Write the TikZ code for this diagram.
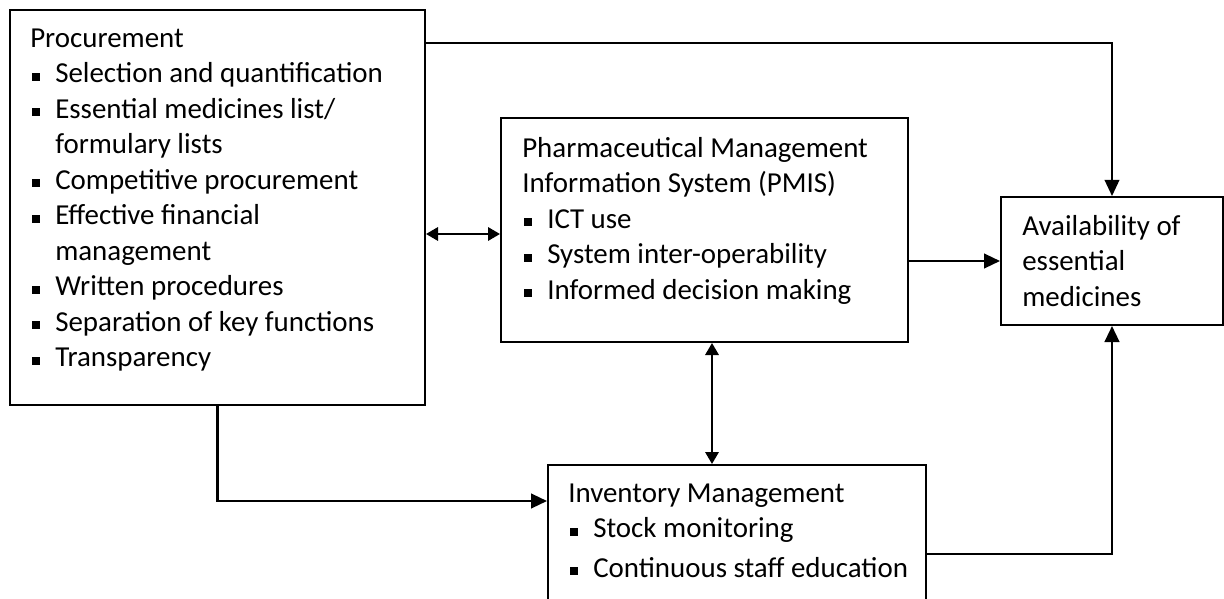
\documentclass[tikz,border=0pt]{standalone}
\usepackage{fontspec}
\setmainfont{Carlito}
\usetikzlibrary{arrows.meta}

\newcommand{\bul}{\hspace*{1.5pt}\makebox[17.25pt][l]{\rule[1.3pt]{6pt}{6pt}}}
\newcommand{\cnt}{\hspace*{18.75pt}}

\begin{document}
\begin{tikzpicture}[x=0.75pt,y=-0.75pt,>={Triangle[length=12pt,width=11pt]}]
            \tikzset{box/.style={draw, line width=1.5pt, anchor=north west, inner sep=0pt}};
            \tikzset{txt/.style={anchor=north west, align=left, inner sep=0pt, font=\fontsize{21.7}{26.6}\selectfont}};
            \tikzset{line/.style={line width=1.7pt, ->}};
            \tikzset{dline/.style={line width=1.7pt, {Triangle[length=9pt,width=10pt]}-{Triangle[length=9pt,width=10pt]}}};

            \useasboundingbox (0,0) rectangle (1224,599);
            \clip (0,0) rectangle (1224,599);

            % the four boxes
            \node[box, minimum width=311.25pt, minimum height=296.25pt] (proc) at (9,9) {};
            \node[box, minimum width=305.25pt, minimum height=168pt] (pmis) at (500,117) {};
            \node[box, minimum width=166.5pt, minimum height=96pt] (avail) at (1000,196) {};
            \node[box, minimum width=283.5pt, minimum height=135pt] (inv) at (547,464) {};

            % texts, first line on a strut
            \node[txt] (proc-t) at (30,22.2) {\strut Procurement\\
                \bul Selection and quantification\\
                \bul Essential medicines list/\\
                \cnt formulary lists\\
                \bul Competitive procurement\\
                \bul Effective financial\\
                \cnt management\\
                \bul Written procedures\\
                \bul Separation of key functions\\
                \bul Transparency};
            \node[txt] (pmis-t) at (522,132.2) {\strut Pharmaceutical Management\\
                Information System (PMIS)\\
                \bul ICT use\\
                \bul System inter-operability\\
                \bul Informed decision making};
            \node[txt] (avail-t) at (1022,210.2) {\strut Availability of\\
                essential\\
                medicines};
            \node[txt] (inv-t) at (568,477.2) {\strut Inventory Management\\
                \bul Stock monitoring\\[3pt]
                \bul Continuous staff education};

            % connectors
            \coordinate (c-top) at (1111,43);
            \coordinate (c-pp) at (460,234);
            \coordinate (c-pi) at (712,400);
            \coordinate (c-low) at (216,501);
            \coordinate (c-inv) at (1111,554);

            \draw[line, line width=1.1pt] (proc.east |- c-top) -| (avail.north);
            \draw[dline] (proc.east |- c-pp) -- (pmis.west |- c-pp);
            \draw[line] (pmis.east |- avail.west) -- (avail.west);
            \draw[dline] (pmis.south -| c-pi) -- (inv.north -| c-pi);
            \draw[line] (proc.south) |- (inv.west |- c-low);
            \draw[line] (inv.east |- c-inv) -| (avail.south);
        \end{tikzpicture}
\end{document}
